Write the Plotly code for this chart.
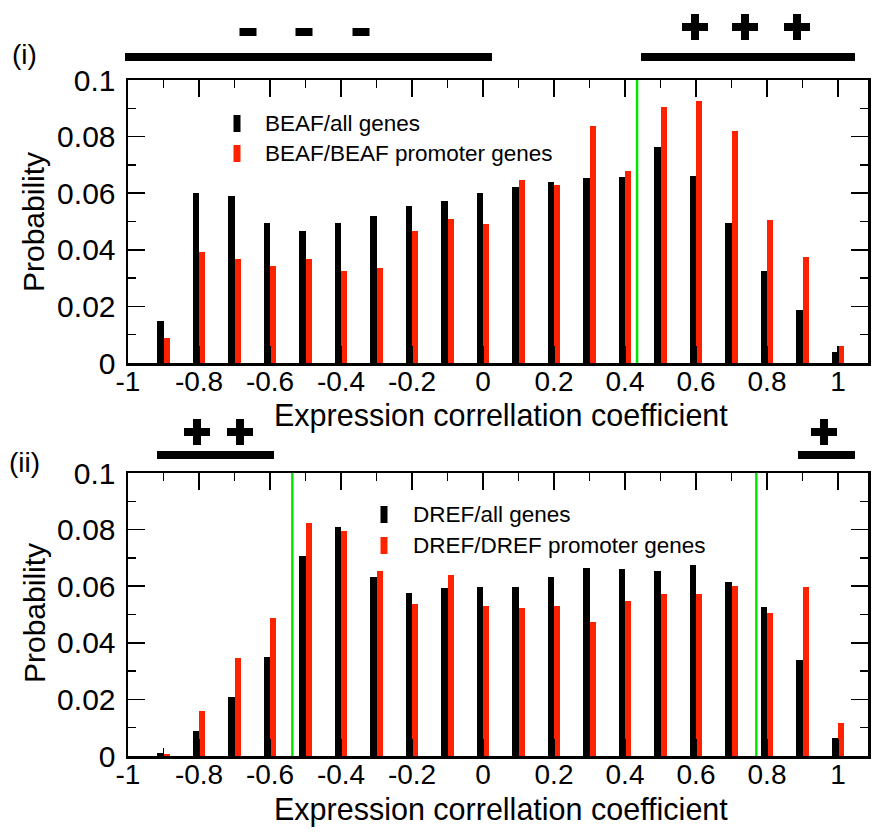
import plotly.graph_objects as go

# ---------------- data ----------------
bins = [-0.9, -0.8, -0.7, -0.6, -0.5, -0.4, -0.3, -0.2, -0.1, 0.0,
        0.1, 0.2, 0.3, 0.4, 0.5, 0.6, 0.7, 0.8, 0.9, 1.0]

beaf_all = [0.0149, 0.0599, 0.0589, 0.0493, 0.0465, 0.0493, 0.0519, 0.0555, 0.0571, 0.0599,
            0.0622, 0.0638, 0.0652, 0.0656, 0.0762, 0.0662, 0.0494, 0.0326, 0.0186, 0.0039]
beaf_prom = [0.0090, 0.0393, 0.0368, 0.0343, 0.0368, 0.0325, 0.0334, 0.0465, 0.0509, 0.0491,
             0.0645, 0.0629, 0.0838, 0.0679, 0.0906, 0.0925, 0.0819, 0.0507, 0.0376, 0.0060]

dref_all = [0.0009, 0.0087, 0.0207, 0.0350, 0.0706, 0.0809, 0.0632, 0.0575, 0.0592, 0.0596,
            0.0596, 0.0631, 0.0665, 0.0662, 0.0653, 0.0676, 0.0614, 0.0525, 0.0338, 0.0064]
dref_prom = [0.0008, 0.0158, 0.0348, 0.0488, 0.0822, 0.0794, 0.0653, 0.0538, 0.0638, 0.0529,
             0.0522, 0.0529, 0.0472, 0.0547, 0.0572, 0.0572, 0.0602, 0.0504, 0.0596, 0.0115]

beaf_threshold = [0.434]
dref_threshold = [-0.537, 0.770]

x_tickvals = [-1, -0.8, -0.6, -0.4, -0.2, 0, 0.2, 0.4, 0.6, 0.8, 1]
x_ticktext = ["-1", "-0.8", "-0.6", "-0.4", "-0.2", "0", "0.2", "0.4", "0.6", "0.8", "1"]
y_tickvals = [0, 0.02, 0.04, 0.06, 0.08, 0.1]
y_ticktext = ["0", "0.02", "0.04", "0.06", "0.08", "0.1"]

legend_top = ["BEAF/all genes", "BEAF/BEAF promoter genes"]
legend_bot = ["DREF/all genes", "DREF/DREF promoter genes"]
x_title = "Expression correllation coefficient"
y_title = "Probability"

# ---------------- layout helpers ----------------
W, H = 872, 834
L, R, T, B = 128, 4, 80, 78
PW, PH = W - L - R, H - T - B
RED = "#ff2200"
GREEN = "#00e600"
FONT = "Liberation Sans, Arial, sans-serif"


def px(xp):
    return (xp - L) / PW


def py(yp):
    return (H - B - yp) / PH


fig = go.Figure()

BW = 0.017
for vals, color, name, xa, ya in [
    (beaf_all, "black", legend_top[0], "x", "y"),
    (beaf_prom, RED, legend_top[1], "x", "y"),
    (dref_all, "black", legend_bot[0], "x2", "y2"),
    (dref_prom, RED, legend_bot[1], "x2", "y2"),
]:
    fig.add_trace(go.Bar(
        x=bins, y=vals, name=name, xaxis=xa, yaxis=ya,
        width=BW, offset=(-BW if color == "black" else 0.0006),
        marker=dict(color=color, line=dict(width=0)),
        showlegend=False,
    ))

# threshold lines
for t in beaf_threshold:
    fig.add_shape(type="line", xref="x", yref="y domain", x0=t, x1=t, y0=0, y1=1,
                  line=dict(color=GREEN, width=2.5), layer="above")
for t in dref_threshold:
    fig.add_shape(type="line", xref="x2", yref="y2 domain", x0=t, x1=t, y0=0, y1=1,
                  line=dict(color=GREEN, width=2.5), layer="above")

xaxis_common = dict(
    range=[-1, 1.0845], tickmode="array", tickvals=x_tickvals, ticktext=x_ticktext,
    ticks="inside", ticklen=17, tickwidth=1.5, tickcolor="black",
    minor=dict(ticks="inside", ticklen=8, tickwidth=1.5, tickcolor="black",
               dtick=0.1, tick0=0, showgrid=False),
    showline=True, linewidth=2.5, linecolor="black", mirror="ticks",
    showgrid=False, zeroline=False, automargin=False,
    tickfont=dict(family=FONT, size=28, color="black"),
    ticklabelstandoff=-8,
)
yaxis_common = dict(
    range=[0, 0.1], tickmode="array", tickvals=y_tickvals, ticktext=y_ticktext,
    ticks="inside", ticklen=17, tickwidth=1.5, tickcolor="black",
    minor=dict(ticks="inside", ticklen=8, tickwidth=1.5, tickcolor="black",
               dtick=0.01, tick0=0, showgrid=False),
    showline=True, linewidth=2.5, linecolor="black", mirror="ticks",
    showgrid=False, zeroline=False, automargin=False,
    tickfont=dict(family=FONT, size=30, color="black"),
    ticklabelstandoff=4,
)

top_dom = [py(363), 1.0]
bot_dom = [0.0, py(473)]

fig.update_layout(
    width=W, height=H,
    margin=dict(l=L, r=R, t=T, b=B, autoexpand=False),
    paper_bgcolor="white", plot_bgcolor="white",
    barmode="overlay", bargap=0,
    font=dict(family=FONT, color="black"),
    xaxis=dict(**xaxis_common, anchor="y"),
    yaxis=dict(**yaxis_common, domain=top_dom, anchor="x"),
    xaxis2=dict(**xaxis_common, anchor="y2"),
    yaxis2=dict(**yaxis_common, domain=bot_dom, anchor="x2"),
)

annotations = []
shapes = []

# axis titles
for ty in [415, 809]:
    annotations.append(dict(text=x_title, x=px(501), y=py(ty), xref="paper", yref="paper",
                            showarrow=False, font=dict(family=FONT, size=30.5, color="black"),
                            xanchor="center", yanchor="middle"))
for ty in [222, 613]:
    annotations.append(dict(text=y_title, x=px(34), y=py(ty), xref="paper", yref="paper",
                            showarrow=False, textangle=-90,
                            font=dict(family=FONT, size=30, color="black"),
                            xanchor="center", yanchor="middle"))

# panel labels
for lab, ty in [("(i)", 55), ("(ii)", 462)]:
    annotations.append(dict(text=lab, x=px(24), y=py(ty), xref="paper", yref="paper",
                            showarrow=False, font=dict(family=FONT, size=28, color="black"),
                            xanchor="center", yanchor="middle"))

# legends (custom tall markers)
for names, mx, tx, ys in [(legend_top, 237, 263, [123, 153]), (legend_bot, 384, 411, [514, 545])]:
    for name, color, yy in zip(names, ["black", RED], ys):
        shapes.append(dict(type="rect", xref="paper", yref="paper",
                           x0=px(mx - 3.5), x1=px(mx + 3.5), y0=py(yy + 9), y1=py(yy - 8),
                           fillcolor=color, line=dict(width=0)))
        annotations.append(dict(text=name, x=px(tx), y=py(yy), xref="paper", yref="paper",
                                showarrow=False, font=dict(family=FONT, size=22.5, color="black"),
                                xanchor="left", yanchor="middle"))


def hbar(x0, x1, yc, th=8):
    shapes.append(dict(type="rect", xref="paper", yref="paper",
                       x0=px(x0), x1=px(x1), y0=py(yc + th / 2), y1=py(yc - th / 2),
                       fillcolor="black", line=dict(width=0)))


def plus(xc, yc, size=26, th=8):
    hbar(xc - size / 2, xc + size / 2, yc, th)
    shapes.append(dict(type="rect", xref="paper", yref="paper",
                       x0=px(xc - th / 2), x1=px(xc + th / 2),
                       y0=py(yc + size / 2), y1=py(yc - size / 2),
                       fillcolor="black", line=dict(width=0)))


# significance marks, panel (i)
hbar(125, 492, 57)
for xc in [248, 304, 361]:
    hbar(xc - 8.5, xc + 8.5, 32, 8)
hbar(641, 855, 57)
for xc in [695, 745, 797]:
    plus(xc, 27)
# panel (ii)
hbar(157, 274, 455)
for xc in [197, 240]:
    plus(xc, 432)
hbar(798, 855, 455)
plus(824, 432)

fig.update_layout(annotations=annotations, shapes=list(fig.layout.shapes) + shapes)

fig.write_html(
    "out.html",
    config={"displayModeBar": False, "staticPlot": True},
    post_script="document.body.style.margin='0';document.body.style.padding='0';"
                "document.body.style.overflow='hidden';",
)
